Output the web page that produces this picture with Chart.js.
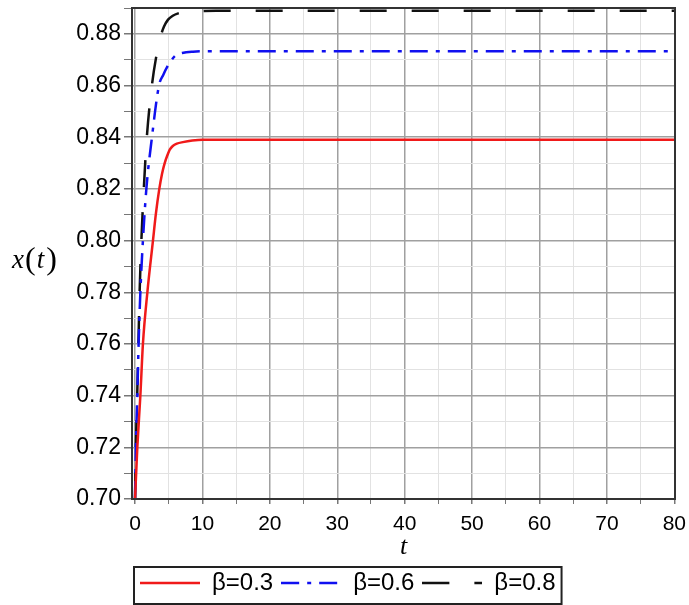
<!DOCTYPE html>
<html>
<head>
<meta charset="utf-8">
<script src="https://cdn.jsdelivr.net/npm/chart.js@4/dist/chart.umd.min.js"></script>
<style>
    html, body { margin: 0; padding: 0; background: #fff; }
    #wrap { width: 689px; height: 605px; }
</style>
</head>
<body>
<div id="wrap"><canvas id="chart"></canvas></div>
<script>
// values
var seriesLabels = ["\u03b2=0.3", "\u03b2=0.6", "\u03b2=0.8"];

var tRed = [0, 0.34, 0.79, 1.17, 1.83, 2.66, 3.1, 3.6, 4.0, 4.4, 4.8, 5.15, 5.6, 6.2, 7.1, 8.5, 10, 80];
var xRed = [0.700, 0.720, 0.740, 0.760, 0.780, 0.800, 0.8105, 0.8200, 0.8258, 0.8300, 0.8330, 0.8352, 0.8366, 0.8375, 0.8381, 0.8387, 0.8390, 0.8390];

var tBlue = [0, 0.13, 0.34, 0.53, 0.79, 1.17, 1.68, 2.51, 3.55, 4.2, 4.9, 5.5, 6.1, 7.0, 8.6, 11, 80];
var xBlue = [0.700, 0.720, 0.740, 0.760, 0.780, 0.800, 0.820, 0.840, 0.860, 0.8642, 0.8678, 0.8702, 0.8718, 0.8726, 0.8731, 0.8733, 0.8733];

var tBlack = [0, 0.12, 0.32, 0.5, 0.68, 0.94, 1.3, 1.75, 2.5, 3.1, 3.8, 4.3, 4.9, 5.6, 6.4, 7.5, 9, 12, 80];
var xBlack = [0.700, 0.720, 0.740, 0.760, 0.780, 0.800, 0.820, 0.840, 0.860, 0.8705, 0.8790, 0.8828, 0.8855, 0.8870, 0.8879, 0.8884, 0.8887, 0.8889, 0.8889];

var xTicksMajor = [0, 10, 20, 30, 40, 50, 60, 70, 80];

var seriesColors = ["#f01a1a", "#1010f0", "#111"];
var seriesDash = [[], [18, 8, 4, 8], [27, 25]];

function pairs(ts, xs) {
    return ts.map(function (t, i) { return { x: t, y: xs[i] }; });
}

function isMajorY(v) {
    return Math.round(v * 100) % 2 === 0;
}

// small canvas used as the legend symbol, so the dash shows in the legend
function legendLine(color, dash) {
    var c = document.createElement("canvas");
    c.width = 60;
    c.height = 6;
    var g = c.getContext("2d");
    g.strokeStyle = color;
    g.lineWidth = 2.5;
    g.setLineDash(dash);
    g.beginPath();
    g.moveTo(0, 3);
    g.lineTo(60, 3);
    g.stroke();
    return c;
}

// frame round the plot, legend box and the x(t) label
var extras = {
    id: "extras",
    afterDraw: function (chart) {
        var ctx = chart.ctx;
        var a = chart.chartArea;
        ctx.save();
        ctx.strokeStyle = "#333";
        ctx.lineWidth = 2;
        ctx.strokeRect(a.left, a.top, a.right - a.left, a.bottom - a.top);

        // legend border
        var hb = chart.legend.legendHitBoxes;
        if (hb && hb.length) {
            var first = hb[0], last = hb[hb.length - 1];
            var bl = first.left - 6;
            var br = last.left + last.width + 6;
            var bt = first.top - 4;
            ctx.strokeStyle = "#222";
            ctx.lineWidth = 2;
            ctx.strokeRect(bl, bt, br - bl, 37);
        }

        // y axis label x(t)
        var y = chart.scales.y.getPixelForValue(0.792);
        ctx.fillStyle = "#000";
        ctx.textBaseline = "middle";
        ctx.textAlign = "left";
        var px = 12;
        ctx.font = "italic 27px 'Liberation Serif'";
        ctx.fillText("x", px, y);
        px += ctx.measureText("x").width + 1;
        ctx.font = "32px 'Liberation Serif'";
        ctx.fillText("(", px, y - 1);
        px += ctx.measureText("(").width + 1;
        ctx.font = "italic 27px 'Liberation Serif'";
        ctx.fillText("t", px, y);
        px += ctx.measureText("t").width + 2;
        ctx.font = "32px 'Liberation Serif'";
        ctx.fillText(")", px, y - 1);
        ctx.restore();
    }
};

var data = {
    datasets: [
        {
            label: seriesLabels[0],
            data: pairs(tRed, xRed),
            borderColor: seriesColors[0],
            borderWidth: 2.5,
            borderDash: seriesDash[0],
            pointRadius: 0,
            pointStyle: legendLine(seriesColors[0], seriesDash[0]),
            cubicInterpolationMode: "monotone",
            fill: false
        },
        {
            label: seriesLabels[1],
            data: pairs(tBlue, xBlue),
            borderColor: seriesColors[1],
            borderWidth: 2.5,
            borderDash: seriesDash[1],
            pointRadius: 0,
            pointStyle: legendLine(seriesColors[1], seriesDash[1]),
            cubicInterpolationMode: "monotone",
            fill: false
        },
        {
            label: seriesLabels[2],
            data: pairs(tBlack, xBlack),
            borderColor: seriesColors[2],
            borderWidth: 2.5,
            borderDash: seriesDash[2],
            pointRadius: 0,
            pointStyle: legendLine(seriesColors[2], seriesDash[2]),
            cubicInterpolationMode: "monotone",
            fill: false
        }
    ]
};

var options = {
    responsive: true,
    maintainAspectRatio: false,
    animation: false,
    layout: { padding: { top: 8, right: 14, bottom: 0, left: 0 } },
    plugins: {
        tooltip: { enabled: false },
        legend: {
            position: "bottom",
            align: "start",
            fullSize: false,
            labels: {
                usePointStyle: true,
                pointStyleWidth: 60,
                padding: 8,
                color: "#000",
                font: { family: "'Liberation Sans', Arial", size: 24 }
            }
        }
    },
    scales: {
        x: {
            type: "linear",
            min: -0.45,
            max: 80.1,
            afterFit: function (scale) {
                scale.height = 64;
                scale.paddingLeft = 0;
                scale.paddingRight = 0;
            },
            border: { display: false },
            grid: {
                color: function (c) {
                    return xTicksMajor.indexOf(c.tick.value) >= 0 ? "#a0a0a0" : "#e2e2e2";
                },
                lineWidth: function (c) {
                    return xTicksMajor.indexOf(c.tick.value) >= 0 ? 1.5 : 1;
                },
                tickColor: "#777",
                tickLength: 5
            },
            ticks: {
                stepSize: 5,
                includeBounds: false,
                autoSkip: false,
                maxRotation: 0,
                padding: 8,
                color: "#000",
                font: { family: "'Liberation Sans', Arial", size: 21 },
                callback: function (v) {
                    return xTicksMajor.indexOf(v) >= 0 ? String(v) : "";
                }
            },
            title: {
                display: true,
                text: "t",
                color: "#000",
                padding: { top: 0, bottom: 0 },
                font: { family: "'Liberation Serif'", size: 26, style: "italic" }
            }
        },
        y: {
            type: "linear",
            min: 0.70,
            max: 0.89,
            afterFit: function (scale) {
                scale.width = 132;
                scale.paddingTop = 0;
                scale.paddingBottom = 0;
            },
            border: { display: false },
            grid: {
                color: function (c) {
                    return isMajorY(c.tick.value) ? "#a0a0a0" : "#e2e2e2";
                },
                lineWidth: function (c) {
                    return isMajorY(c.tick.value) ? 1.5 : 1;
                },
                tickColor: "#777",
                tickLength: 8
            },
            ticks: {
                stepSize: 0.01,
                autoSkip: false,
                padding: 3,
                color: "#000",
                font: { family: "'Liberation Sans', Arial", size: 23 },
                callback: function (v) {
                    return isMajorY(v) ? v.toFixed(2) : "";
                }
            }
        }
    }
};

new Chart(document.getElementById("chart").getContext("2d"), {
    type: "line",
    data: data,
    options: options,
    plugins: [extras]
});
</script>
</body>
</html>
